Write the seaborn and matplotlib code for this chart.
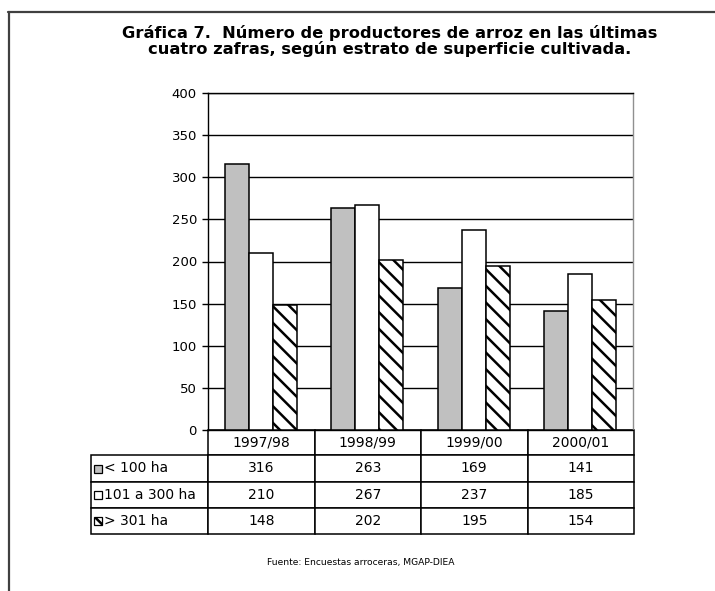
import pandas as pd
import matplotlib.pyplot as plt
import seaborn as sns
from matplotlib.table import Table
from matplotlib.patches import Rectangle
from matplotlib.lines import Line2D

# Data
zafras = ['1997/98', '1998/99', '1999/00', '2000/01']
estratos = ['< 100 ha', '101 a 300 ha', '> 301 ha']
menos_100 = [316, 263, 169, 141]
de_101_a_300 = [210, 267, 237, 185]
mas_301 = [148, 202, 195, 154]

titulo = ('Gráfica 7.  Número de productores de arroz en las últimas\n'
          'cuatro zafras, según estrato de superficie cultivada.')
fuente = 'Fuente: Encuestas arroceras, MGAP-DIEA'

sns.set_style('white')
plt.rcParams['font.family'] = ['DejaVu Sans']
plt.rcParams['text.color'] = 'black'
plt.rcParams['ytick.color'] = 'black'
plt.rcParams['hatch.linewidth'] = 1.8
plt.rcParams['hatch.color'] = 'black'

W, H = 715, 591
fig = plt.figure(figsize=(W / 100, H / 100), dpi=100)

# plot area in pixels (from the reference)
px_left, px_right, px_top, px_bottom = 208, 633, 93, 430
ax = fig.add_axes([px_left / W, 1 - px_bottom / H,
                   (px_right - px_left) / W, (px_bottom - px_top) / H])

df = pd.DataFrame({
    'zafra': zafras * 3,
    'estrato': [estratos[0]] * 4 + [estratos[1]] * 4 + [estratos[2]] * 4,
    'n': menos_100 + de_101_a_300 + mas_301,
})
colores = ['#c0c0c0', 'white', 'white']
sns.barplot(data=df, x='zafra', y='n', hue='estrato', palette=colores,
            width=0.68, gap=0, edgecolor='black', linewidth=1.1,
            saturation=1, legend=False, ax=ax, zorder=3)
for bar in ax.containers[2]:
    bar.set_hatch('\\\\')

ax.set_ylim(0, 400)
ax.set_xlim(-0.5, 3.5)
ax.set_yticks(range(0, 401, 50))
ax.set_xticks([])
ax.set_xlabel('')
ax.set_ylabel('')
ax.yaxis.grid(True, color='black', linewidth=1.0)
ax.set_axisbelow(True)
ax.tick_params(axis='y', left=True, length=4, width=1, color='black',
               labelcolor='black', labelsize=9.5, pad=4)
for s in ['left', 'top', 'bottom']:
    ax.spines[s].set_color('black')
    ax.spines[s].set_linewidth(1.0)
ax.spines['right'].set_color('#909090')
ax.spines['right'].set_linewidth(1.0)

# data table below the plot
tab_left = 91
col_w = [px_left - tab_left] + [(px_right + 1 - px_left) / 4] * 4
row_h = [25, 27, 26, 26]
ax_w = px_right - px_left
ax_h = px_bottom - px_top
tb = Table(ax, bbox=[(tab_left - px_left) / ax_w, -sum(row_h) / ax_h,
                     sum(col_w) / ax_w, sum(row_h) / ax_h])
for j, z in enumerate(zafras):
    tb.add_cell(0, j + 1, col_w[j + 1], row_h[0], text=z, loc='center')
valores = [menos_100, de_101_a_300, mas_301]
for i, (nombre, serie) in enumerate(zip(estratos, valores)):
    tb.add_cell(i + 1, 0, col_w[0], row_h[i + 1], text=nombre, loc='left')
    for j, v in enumerate(serie):
        tb.add_cell(i + 1, j + 1, col_w[j + 1], row_h[i + 1], text=str(v),
                    loc='center')
for cell in tb.get_celld().values():
    cell.set_edgecolor('black')
    cell.set_linewidth(1.1)
    cell.PAD = 0.115
tb.auto_set_font_size(False)
tb.set_fontsize(10)
tb.set_clip_on(False)
ax.add_table(tb)

# legend keys inside the label column
y0 = px_bottom + row_h[0]
for i in range(3):
    yc = y0 + sum(row_h[1:i + 1]) + row_h[i + 1] / 2
    key = Rectangle((94 / W, 1 - (yc + 4) / H), 8 / W, 8 / H,
                    transform=fig.transFigure, facecolor=colores[i],
                    edgecolor='black', linewidth=0.9,
                    hatch='\\\\\\' if i == 2 else None)
    fig.add_artist(key)

fig.text(390 / W, 1 - 41 / H, titulo, ha='center', va='center',
         fontsize=11.7, fontweight='bold', linespacing=0.98)
fig.text(361 / W, 1 - 563 / H, fuente, ha='center', va='center', fontsize=6.6)

# outer frame (top and left edges visible in the reference)
fig.add_artist(Line2D([8 / W, 1], [1 - 12 / H, 1 - 12 / H],
                      transform=fig.transFigure, color='#404040', linewidth=1.6))
fig.add_artist(Line2D([9 / W, 9 / W], [1 - 12 / H, 0],
                      transform=fig.transFigure, color='#404040', linewidth=1.6))

fig.savefig('out.png', dpi=100, facecolor='white')
